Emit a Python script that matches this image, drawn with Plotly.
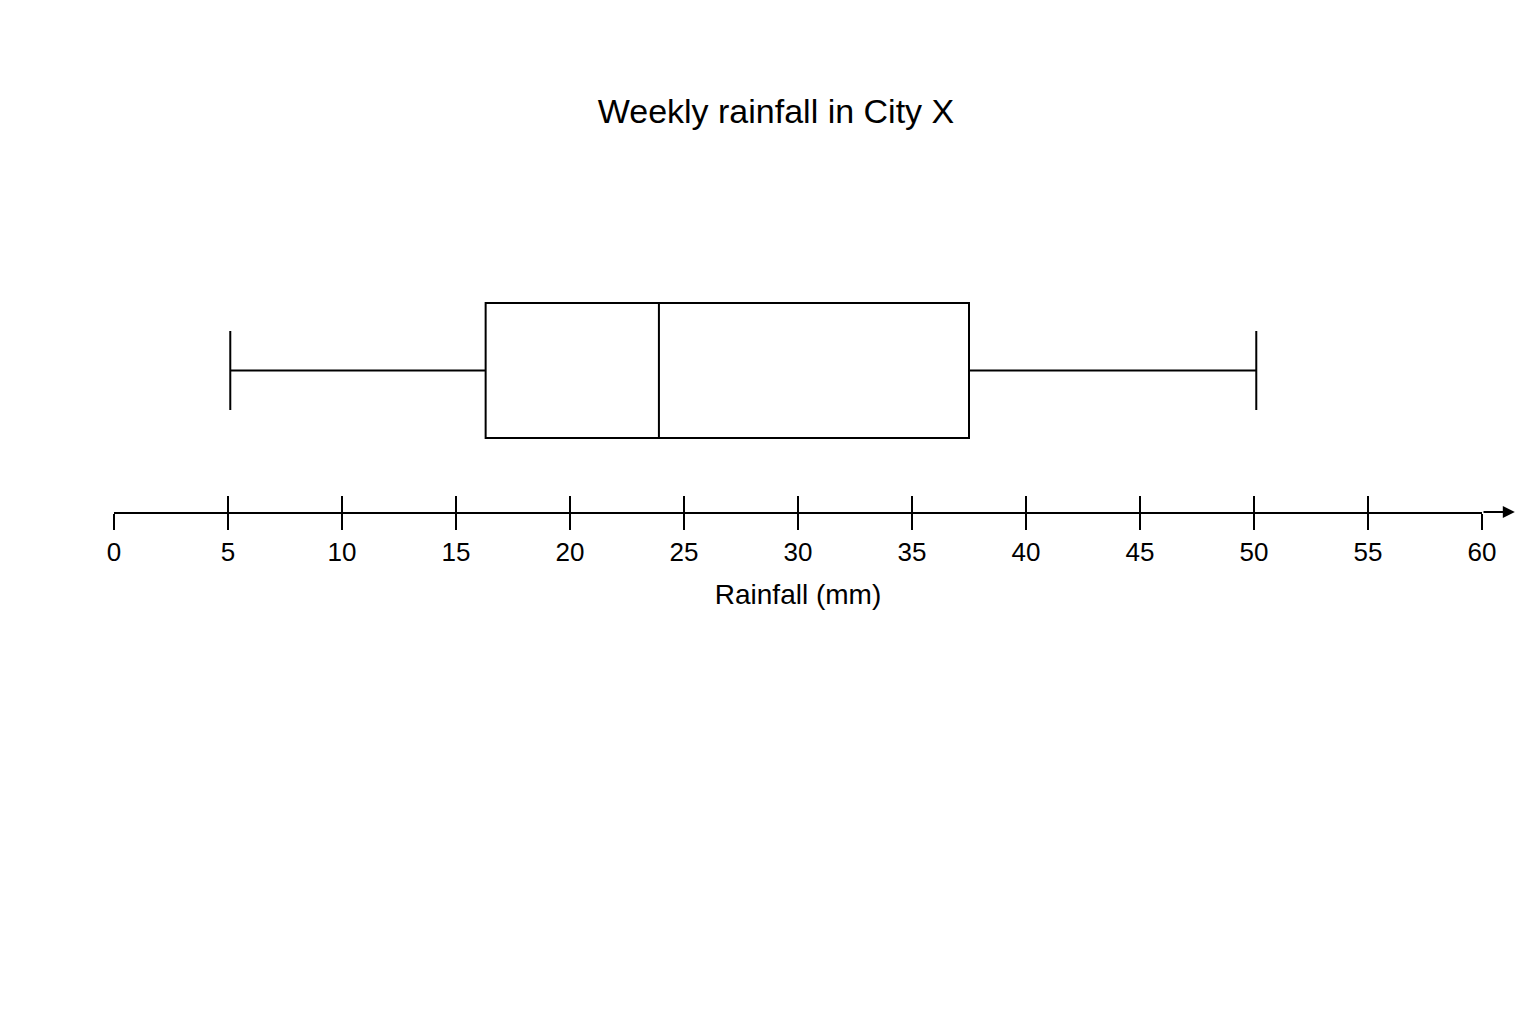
import plotly.graph_objects as go

lower_fence = [5.1]
q1 = [16.3]
median = [23.9]
q3 = [37.5]
upper_fence = [50.1]
tick_vals = list(range(0, 61, 5))

fig = go.Figure()
fig.add_trace(go.Box(
    q1=q1, median=median, q3=q3, lowerfence=lower_fence, upperfence=upper_fence,
    y=[0], orientation="h", width=1.35, whiskerwidth=0.585,
    line=dict(color="black", width=2), fillcolor="white", showlegend=False,
    hoverinfo="skip",
))
font = "Liberation Sans, Arial, sans-serif"
fig.update_layout(
    width=1536, height=1024, paper_bgcolor="white", plot_bgcolor="white",
    margin=dict(l=106, r=62, t=180, b=520),
    title=dict(text="Weekly rainfall in City X", x=0.5, xanchor="center",
               y=1 - 103 / 1024, yanchor="middle", font=dict(family=font, size=34, color="black")),
    font=dict(family=font, color="black"),
    xaxis=dict(range=[0, 60], tickvals=tick_vals, ticks="outside", ticklen=16, tickwidth=2,
               tickcolor="black", showline=True, linecolor="black", linewidth=2,
               showgrid=False, zeroline=False, tickfont=dict(size=26),
               title=dict(text="Rainfall (mm)", font=dict(size=28), standoff=18)),
    xaxis2=dict(range=[0, 60], overlaying="x", anchor="y", side="bottom",
                tickvals=tick_vals, ticks="inside", ticklen=16, tickwidth=2, tickcolor="black",
                showticklabels=False, showgrid=False, zeroline=False),
    yaxis=dict(range=[-1.415, 1.825], visible=False, fixedrange=True),
)
fig.add_trace(go.Scatter(x=[None], y=[None], xaxis="x2", showlegend=False))
fig.add_annotation(x=1.024, y=0, ax=1.0, ay=0, xref="x domain", yref="y domain",
                   axref="x domain", ayref="y domain",
                   text="", showarrow=True, arrowhead=2, arrowsize=1.2, arrowwidth=2, arrowcolor="black")
fig.write_html("out.html")
